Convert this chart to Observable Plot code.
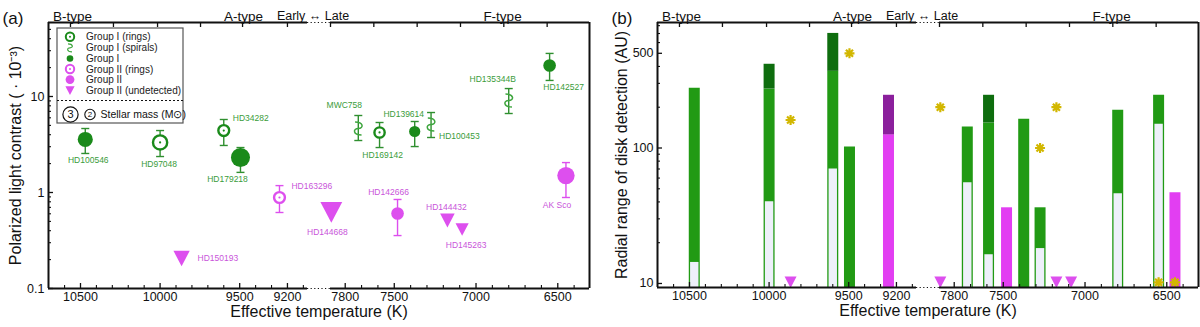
<!DOCTYPE html>
<html><head><meta charset="utf-8">
<script src="https://cdn.jsdelivr.net/npm/d3@7"></script>
<script src="https://cdn.jsdelivr.net/npm/@observablehq/plot@0.6"></script>
<style>
html,body{margin:0;padding:0;background:#fff;}
#wrap{display:flex;width:1200px;height:327px;overflow:hidden;}
</style></head><body><div id="wrap"></div>
<script>
// ---------------- DATA ----------------
// Panel (a): polarized light contrast per star
const stars = ["HD100546","HD97048","HD34282","HD179218","HD163296","HD150193","HD144668","MWC758","HD169142","HD142666","HD139614","HD100453","HD144432","HD145263","HD135344B","HD142527","AK Sco"];
const teff = [10470,10000,9600,9495,9250,9865,7885,7720,7590,7480,7375,7275,7175,7085,6800,6550,6450];
const group = ["I","I (rings)","I (rings)","I","II (rings)","II (undetected)","II (undetected)","I (spirals)","I (rings)","II","I","I (spirals)","II (undetected)","II (undetected)","I (spirals)","I","II"];
const contrast = [3.57,3.32,4.42,2.31,0.887,0.205,0.62,4.64,4.22,0.604,4.32,5.11,0.511,0.412,9.09,21.0,1.50];
const contrastLow = [2.55,2.37,3.09,1.62,0.619,null,null,3.48,2.94,0.356,3.01,3.74,null,null,6.65,14.7,0.887];
const contrastHigh = [4.64,4.42,5.76,2.94,1.18,null,null,6.34,5.36,0.846,5.49,6.81,null,null,12.1,28.1,2.05];
const stellarMass = [2.7,3.0,2.4,3.4,2.4,2.9,3.9,null,2.3,2.25,2.0,null,2.6,2.35,null,2.25,3.1];

// Panel (b): radial range of disk detection (AU)
const barStar = ["HD100546","HD97048","HD34282","HD179218","HD163296","MWC758","HD169142","HD142666","HD139614","HD100453","HD135344B","HD142527","AK Sco"];
const barInner = [14.3,40.1,70.1,null,null,55.3,16.3,null,null,18.1,45.9,150,null];
const barOuter = [276,272,368,101.6,125,143,153,36.2,163,36.2,190,245,46.7];
const barExtended = [null,415,701,null,245,null,245,null,null,null,null,null,null];
const companionStar = ["HD150193","HD179218","HD144668","HD100453","HD144432","HD142527","AK Sco"];
const companionSep = [161,500,200,100,200,10.2,10.2];
const undetectedStar = ["HD150193","HD144668","HD144432","HD145263"];
const undetectedLevel = [10.2,10.2,10.2,10.2];

// Axes
const xBreakDomain = [10701, 9074, 7890, 6306];
const xMajorTicks = [10500,10000,9500,9200,7800,7500,7000,6500];
const xMinorTicks = [10600,10400,10300,10200,10100,9900,9800,9700,9600,9400,9300,9100,7700,7600,7400,7300,7200,7100,6900,6800,6700,6600,6400];
const spectralTicks = [10563,10293,10016,9746,9482,9200,7890,7625,7360,7095,6830,6565];
const aYDomain = [0.1, 59];
const aYMajor = [0.1, 1, 10];
const aYMinor = [0.2,0.3,0.4,0.5,0.6,0.7,0.8,0.9,2,3,4,5,6,7,8,9,20,30,40,50];
const bYDomain = [9.34, 844];
const bYMajor = [10, 100, 500];
const bYMinor = [20,30,40,50,60,70,80,90,200,300,400,600,700,800];

// ---------------- STYLE ----------------
const FONT = '"Liberation Sans", Arial, Helvetica, sans-serif';
const ink = "#111";
const green = "#1a8a1a", greenErr = "#2f8f2f", greenLabel = "#3a9c3a", spiralGreen = "#3fa63f";
const pink = "#dd4fee", pinkLabel = "#c955da";
const barGreen = "#219a14", barDark = "#0e6d0e", barLight = "#eef0fa", barPink = "#e23ef2", barPurple = "#8b1f9c", starYellow = "#d2b700";

const labelOffset = {
  "HD100546": [3, 21, "middle"], "HD97048": [-1, 22, "middle"], "HD34282": [9, -12, "start"],
  "HD179218": [-13, 22, "middle"], "HD163296": [12, -11, "start"], "HD150193": [16, 0, "start"],
  "HD144668": [-4, 20, "middle"], "MWC758": [-14, -23, "middle"], "HD169142": [3, 23, "middle"],
  "HD142666": [-9, -21, "middle"], "HD139614": [-11, -17, "middle"], "HD100453": [8, 12, "start"],
  "HD144432": [-1, -13, "middle"], "HD145263": [4, 16, "middle"], "HD135344B": [-16, -21, "middle"],
  "HD142527": [14, 22, "middle"], "AK Sco": [-9, 30, "middle"]
};

// custom symbols
const capSym = {draw(c, s){ const r = Math.sqrt(s/Math.PI); c.moveTo(-r,0); c.lineTo(r,0); }};
const triDown = {draw(c, s){ const r = Math.sqrt(s/Math.PI), h = r*0.95; c.moveTo(-r,-h); c.lineTo(r,-h); c.lineTo(0,h); c.closePath(); }};
const spiralSym = {draw(c, s){ const r = Math.sqrt(s/Math.PI), w = r*0.5;
  c.moveTo(-w, -r); c.bezierCurveTo(w*1.7, -r, w*1.7, 0, 0, 0); c.bezierCurveTo(-w*1.7, 0, -w*1.7, r, w, r); }};
const starSym = {draw(c, s){ const r = Math.sqrt(s/Math.PI);
  for (let k = 0; k < 4; k++) { const a = k*Math.PI/4, dx = Math.cos(a)*r, dy = Math.sin(a)*r; c.moveTo(-dx,-dy); c.lineTo(dx,dy); } }};

const T = Object.fromEntries(stars.map((s,i)=>[s, teff[i]]));
const G = Object.fromEntries(stars.map((s,i)=>[s, group[i]]));
const isII = g => g.startsWith("II");

// ---------------- SCAFFOLD ----------------
function scaffold(opt) {
  const {yDom, yMajor, yMinor, frameH, tag, yTitle, yTitleDx} = opt;
  const frameW = 541;
  const tx = {fontSize: 12.5, fill: ink};
  const head = (s, dx, size) => Plot.text([s], {text: d=>d, frameAnchor: "top-left", textAnchor: "middle", dx, dy: -11, fontSize: size, fill: ink});
  return [
    // ticks
    Plot.ruleX(xMajorTicks, {x: d=>d, stroke: ink, strokeWidth: 1.3, insetTop: frameH - 5}),
    Plot.ruleX(xMinorTicks, {x: d=>d, stroke: ink, strokeWidth: 1.1, insetTop: frameH - 3}),
    Plot.ruleX(spectralTicks, {x: d=>d, stroke: ink, strokeWidth: 1.3, insetBottom: frameH - 5}),
    Plot.ruleY(yMajor, {y: d=>d, stroke: ink, strokeWidth: 1.3, insetRight: frameW - 5}),
    Plot.ruleY(yMinor, {y: d=>d, stroke: ink, strokeWidth: 1.1, insetRight: frameW - 3}),
    // frame with axis break
    Plot.ruleX([xBreakDomain[0], xBreakDomain[3]], {x: d=>d, stroke: ink, strokeWidth: 2}),
    Plot.ruleY([yDom[0], yDom[1]], {y: d=>d, x1: xBreakDomain[0], x2: xBreakDomain[1], stroke: ink, strokeWidth: 2}),
    Plot.ruleY([yDom[0], yDom[1]], {y: d=>d, x1: xBreakDomain[2], x2: xBreakDomain[3], stroke: ink, strokeWidth: 2}),
    Plot.ruleY([yDom[0], yDom[1]], {y: d=>d, x1: xBreakDomain[1], x2: xBreakDomain[2], stroke: ink, strokeWidth: 1.2, strokeDasharray: "1.2,2.4"}),
    // tick labels
    Plot.text(xMajorTicks, {x: d=>d, text: d=>String(d), frameAnchor: "bottom", lineAnchor: "top", textAnchor: "middle", dy: 4, ...tx}),
    Plot.text(yMajor, {y: d=>d, text: d=>String(d), frameAnchor: "left", textAnchor: "end", dx: -4, ...tx}),
    // header labels
    head("B-type", 24, 13.5),
    head("A-type", 195, 13.5),
    head("Early \u2194 Late", 264.5, 12.5),
    head("F-type", 454, 13.5),
    head(tag, -35.5, 17),
    // axis titles
    Plot.text(["Effective temperature (K)"], {text: d=>d, frameAnchor: "bottom", textAnchor: "middle", dy: 28, fontSize: 16, fill: ink}),
    Plot.text([yTitle], {text: d=>d, frameAnchor: "left", textAnchor: "middle", rotate: -90, dx: yTitleDx, fontSize: 16, fill: ink})
  ];
}

// ---------------- PANEL (a) ----------------
const idx = d3.range(stars.length);
const withErr = idx.filter(i => contrastLow[i] != null);
const colorOf = i => isII(group[i]) ? pink : green;
const errColorOf = i => isII(group[i]) ? pink : greenErr;
const pick = g => idx.filter(i => group[i] === g);

const labelMarks = idx.map(i => {
  const [dx, dy, anchor] = labelOffset[stars[i]];
  return Plot.text([i], {x: i=>teff[i], y: i=>contrast[i], text: i=>stars[i], dx, dy, textAnchor: anchor,
    fontSize: 8.5, fill: isII(group[i]) ? pinkLabel : greenLabel});
});

const mL_A = 48;
const svgA = Plot.plot({
  width: 600, height: 327,
  marginTop: 22, marginBottom: 39, marginLeft: mL_A, marginRight: 11,
  style: {fontFamily: FONT, background: "white", color: ink, overflow: "visible"},
  x: {type: "linear", domain: xBreakDomain, range: [mL_A, mL_A+259, mL_A+282, mL_A+541], axis: null},
  y: {type: "log", domain: aYDomain, axis: null},
  r: {type: "identity"},
  color: {type: "identity"},
  marks: [
    Plot.ruleX(withErr, {x: i=>teff[i], y1: i=>contrastLow[i], y2: i=>contrastHigh[i], stroke: errColorOf, strokeWidth: 1.4}),
    Plot.dot(withErr, {x: i=>teff[i], y: i=>contrastLow[i], symbol: capSym, r: 4, stroke: errColorOf, fill: "none", strokeWidth: 1.4}),
    Plot.dot(withErr, {x: i=>teff[i], y: i=>contrastHigh[i], symbol: capSym, r: 4, stroke: errColorOf, fill: "none", strokeWidth: 1.4}),
    // Group I / II filled
    Plot.dot(pick("I"), {x: i=>teff[i], y: i=>contrast[i], r: i=>2.8*stellarMass[i], fill: green, stroke: "none"}),
    Plot.dot(pick("II"), {x: i=>teff[i], y: i=>contrast[i], r: i=>2.8*stellarMass[i], fill: pink, stroke: "none"}),
    // rings
    Plot.dot([...pick("I (rings)"), ...pick("II (rings)")], {x: i=>teff[i], y: i=>contrast[i], r: i=>2.8*stellarMass[i]-1.3, fill: "white", stroke: colorOf, strokeWidth: 2.4}),
    Plot.dot([...pick("I (rings)"), ...pick("II (rings)")], {x: i=>teff[i], y: i=>contrast[i], r: 1.1, fill: colorOf, stroke: "none"}),
    // spirals
    Plot.dot(pick("I (spirals)"), {x: i=>teff[i], y: i=>contrast[i], symbol: spiralSym, r: 6.5, fill: "none", stroke: spiralGreen, strokeWidth: 1.5}),
    // undetected
    Plot.dot(pick("II (undetected)"), {x: i=>teff[i], y: i=>contrast[i], symbol: triDown, r: i=>2.8*stellarMass[i], fill: pink, stroke: "none"}),
    ...labelMarks,
    ...scaffold({yDom: aYDomain, yMajor: aYMajor, yMinor: aYMinor, frameH: 266, tag: "(a)",
      yTitle: "Polarized light contrast ( \u00B7 10\u207B\u00B3)", yTitleDx: -33})
  ]
});

// legend (panel a)
(function drawLegend(svg){
  const g = d3.select(svg).append("g").attr("font-family", FONT).attr("font-size", 10).attr("fill", "#222").attr("text-anchor", "start");
  g.append("rect").attr("x", 57).attr("y", 28).attr("width", 126).attr("height", 95)
    .attr("fill", "white").attr("stroke", "#555").attr("stroke-width", 1.2);
  const sx = 70, tx = 86;
  const rows = [
    {y: 36.7, label: "Group I (rings)", kind: "ring", color: green},
    {y: 47.8, label: "Group I (spirals)", kind: "spiral", color: spiralGreen},
    {y: 58.5, label: "Group I", kind: "dot", color: green, r: 3.3},
    {y: 69, label: "Group II (rings)", kind: "ring", color: pink},
    {y: 79.6, label: "Group II", kind: "dot", color: pink, r: 4.4},
    {y: 90.6, label: "Group II (undetected)", kind: "tri", color: pink}
  ];
  for (const row of rows) {
    const s = g.append("g").attr("transform", `translate(${sx},${row.y})`);
    if (row.kind === "ring") {
      s.append("circle").attr("r", 4.2).attr("fill", "white").attr("stroke", row.color).attr("stroke-width", 2);
      s.append("circle").attr("r", 1).attr("fill", row.color);
    } else if (row.kind === "spiral") {
      s.append("path").attr("d", d3.symbol().type(spiralSym).size(Math.PI*16)()).attr("fill", "none").attr("stroke", row.color).attr("stroke-width", 1.2);
    } else if (row.kind === "dot") {
      s.append("circle").attr("r", row.r).attr("fill", row.color);
    } else {
      s.append("path").attr("d", d3.symbol().type(triDown).size(Math.PI*4.6*4.6)()).attr("fill", row.color);
    }
    g.append("text").attr("x", tx).attr("y", row.y).attr("dy", "0.35em").attr("text-anchor", "start").text(row.label);
  }
  g.append("line").attr("x1", 57).attr("x2", 183).attr("y1", 100.5).attr("y2", 100.5)
    .attr("stroke", ink).attr("stroke-width", 1).attr("stroke-dasharray", "2,2");
  g.append("circle").attr("cx", 70.5).attr("cy", 114.5).attr("r", 7.6).attr("fill", "none").attr("stroke", ink).attr("stroke-width", 1.2);
  g.append("text").attr("x", 70.5).attr("y", 114.5).attr("dy", "0.36em").attr("text-anchor", "middle").attr("font-size", 11).attr("fill", ink).text("3");
  g.append("circle").attr("cx", 90).attr("cy", 114.5).attr("r", 5.2).attr("fill", "none").attr("stroke", ink).attr("stroke-width", 1.1);
  g.append("text").attr("x", 90).attr("y", 114.5).attr("dy", "0.36em").attr("text-anchor", "middle").attr("font-size", 8).attr("fill", ink).text("2");
  g.append("text").attr("x", 100.5).attr("y", 114.5).attr("dy", "0.35em").attr("text-anchor", "start").attr("font-size", 10.5).attr("fill", ink).text("Stellar mass (M\u2299)");
})(svgA);

// ---------------- PANEL (b) ----------------
const bIdx = d3.range(barStar.length);
const barMain = i => isII(G[barStar[i]]) ? barPink : barGreen;
const barTop = i => isII(G[barStar[i]]) ? barPurple : barDark;
const mL_B = 57;
const svgB = Plot.plot({
  width: 600, height: 327,
  marginTop: 22, marginBottom: 40, marginLeft: mL_B, marginRight: 2,
  style: {fontFamily: FONT, background: "white", color: ink, overflow: "visible"},
  x: {type: "linear", domain: xBreakDomain, range: [mL_B, mL_B+259, mL_B+282, mL_B+541], axis: null},
  y: {type: "log", domain: bYDomain, axis: null},
  color: {type: "identity"},
  marks: [
    Plot.ruleX(bIdx, {x: i=>T[barStar[i]], y1: bYDomain[0], y2: i=>barOuter[i], stroke: barMain, strokeWidth: 11}),
    Plot.ruleX(bIdx.filter(i=>barExtended[i]!=null), {x: i=>T[barStar[i]], y1: i=>barOuter[i], y2: i=>barExtended[i], stroke: barTop, strokeWidth: 11}),
    Plot.ruleX(bIdx.filter(i=>barInner[i]!=null), {x: i=>T[barStar[i]], y1: bYDomain[0], y2: i=>barInner[i], stroke: barLight, strokeWidth: 8.4}),
    Plot.dot(d3.range(undetectedStar.length), {x: i=>T[undetectedStar[i]], y: i=>undetectedLevel[i], symbol: triDown, r: 6, fill: pink, stroke: "none"}),
    Plot.dot(d3.range(companionStar.length), {x: i=>T[companionStar[i]], y: i=>companionSep[i], symbol: starSym, r: 5, fill: "none", stroke: starYellow, strokeWidth: 2.2}),
    ...scaffold({yDom: bYDomain, yMajor: bYMajor, yMinor: bYMinor, frameH: 265, tag: "(b)",
      yTitle: "Radial range of disk detection (AU)", yTitleDx: -36})
  ]
});

const wrap = document.getElementById("wrap");
wrap.appendChild(svgA);
wrap.appendChild(svgB);
</script></body></html>
